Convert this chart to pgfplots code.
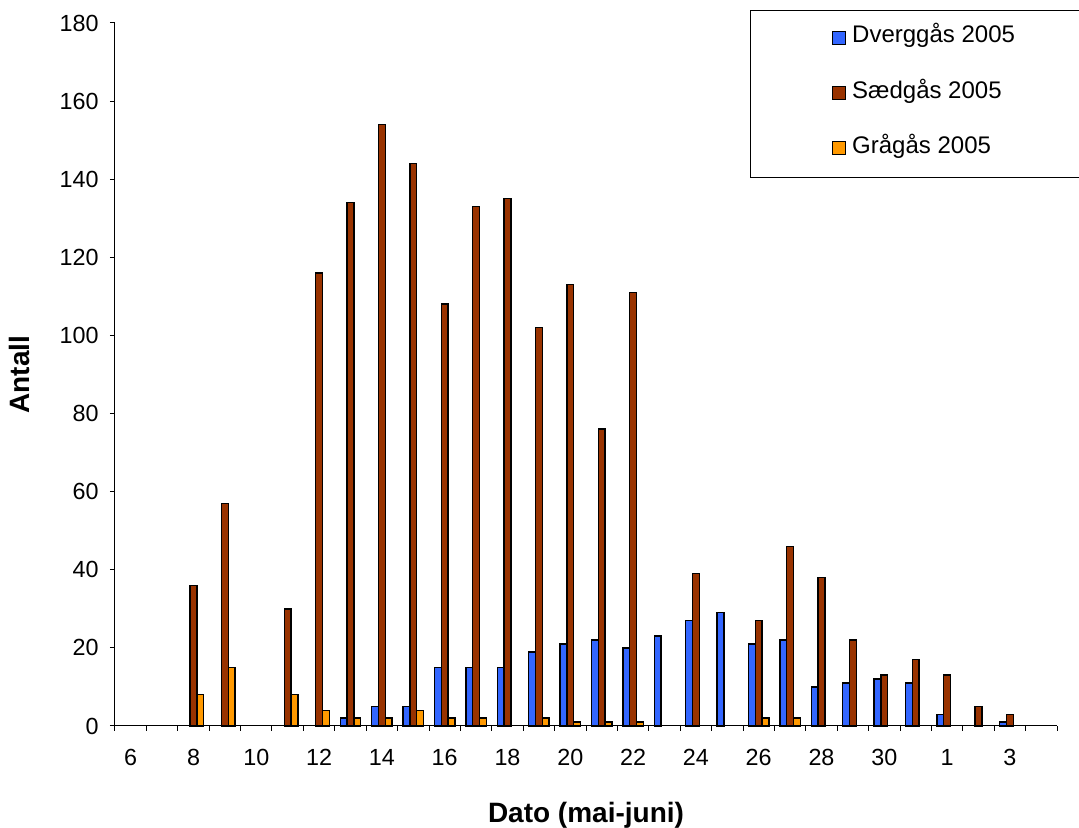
\documentclass[border=0pt]{standalone}
\usepackage{pgfplots}
\pgfplotsset{compat=1.18}
\usepackage{pgfplotstable}
\usepackage{fontspec}
\setmainfont{Liberation Sans}
\usetikzlibrary{calc}

\definecolor{dverg}{HTML}{3366FF}
\definecolor{saed}{HTML}{993300}
\definecolor{gra}{HTML}{FF9900}

% idx 0 = 6. mai ... 25 = 31. mai, 26 = 1. juni ... 29 = 4. juni
\pgfplotstableread{
idx dverg saed gra
0   0   0   0
1   0   0   0
2   0   36  8
3   0   57  15
4   0   0   0
5   0   30  8
6   0   116 4
7   2   134 2
8   5   154 2
9   5   144 4
10  15  108 2
11  15  133 2
12  15  135 0
13  19  102 2
14  21  113 1
15  22  76  1
16  20  111 1
17  23  0   0
18  27  39  0
19  29  0   0
20  21  27  2
21  22  46  2
22  10  38  0
23  11  22  0
24  12  13  0
25  11  17  0
26  3   13  0
27  0   5   0
28  1   3   0
29  0   0   0
}\gaas

\begin{document}
\begin{tikzpicture}
\begin{axis}[
  scale only axis,
  width=706.5pt, height=527.25pt,
  ybar=0pt, bar width=5.1pt,
  xmin=-0.5, xmax=29.5,
  ymin=0, ymax=180,
  ytick={0,20,...,180},
  xtick={0,2,...,28},
  xticklabels={6,8,10,12,14,16,18,20,22,24,26,28,30,1,3},
  minor xtick={-0.5,0.5,...,29.5},
  major x tick style={draw=none},
  tick align=outside,
  major tick length=3.75pt,
  minor tick length=3.75pt,
  tick style={black, line width=0.75pt},
  axis x line*=bottom,
  axis y line*=left,
  axis line style={black, line width=0.75pt},
  ticklabel style={font=\fontsize{17.5}{19}\selectfont},
  xticklabel style={yshift=-10pt},
  yticklabel style={xshift=-5pt},
  /pgf/number format/assume math mode=true,
  xlabel={Dato (mai-juni)},
  ylabel={Antall},
  label style={font=\bfseries\fontsize{21}{24}\selectfont},
  xlabel style={at={(axis description cs:0.5,-0.1366)}, anchor=base},
  ylabel style={at={(axis description cs:-0.086,0.5)}, anchor=south},
  every axis plot/.append style={draw=black, line width=1.1pt},
  y filter/.expression={y==0 ? nan : y},
  unbounded coords=discard,
  clip=false,
  legend cell align=left,
  legend image code/.code={\draw[#1, draw=black, line width=0.75pt] (0pt,-7.5pt) rectangle (9.75pt,2.25pt);},
  legend style={draw=none, fill=none,
    at={(rel axis cs:0.7611,1.0035)}, anchor=north west,
    inner sep=0pt, row sep=21.5pt,
    nodes={inner xsep=4.5pt},
    font=\fontsize{18}{20}\selectfont},
]
\addplot[fill=dverg] table[x=idx, y=dverg] {\gaas};
\addplot[fill=saed] table[x=idx, y=saed] {\gaas};
\addplot[fill=gra] table[x=idx, y=gra] {\gaas};
\legend{Dverggås 2005, Sædgås 2005, Grågås 2005}
\coordinate (bl) at (rel axis cs:0,0);
\coordinate (tr) at (rel axis cs:1,1);
\draw[black, line width=0.75pt] (rel axis cs:0.6741,1.0171) rectangle (rel axis cs:1.04,0.7809);
\end{axis}
\pgfresetboundingbox
\path ($(bl)+(-86.25pt,-76.5pt)$) rectangle ($(tr)+(16.5pt,17.25pt)$);
\end{tikzpicture}
\end{document}
